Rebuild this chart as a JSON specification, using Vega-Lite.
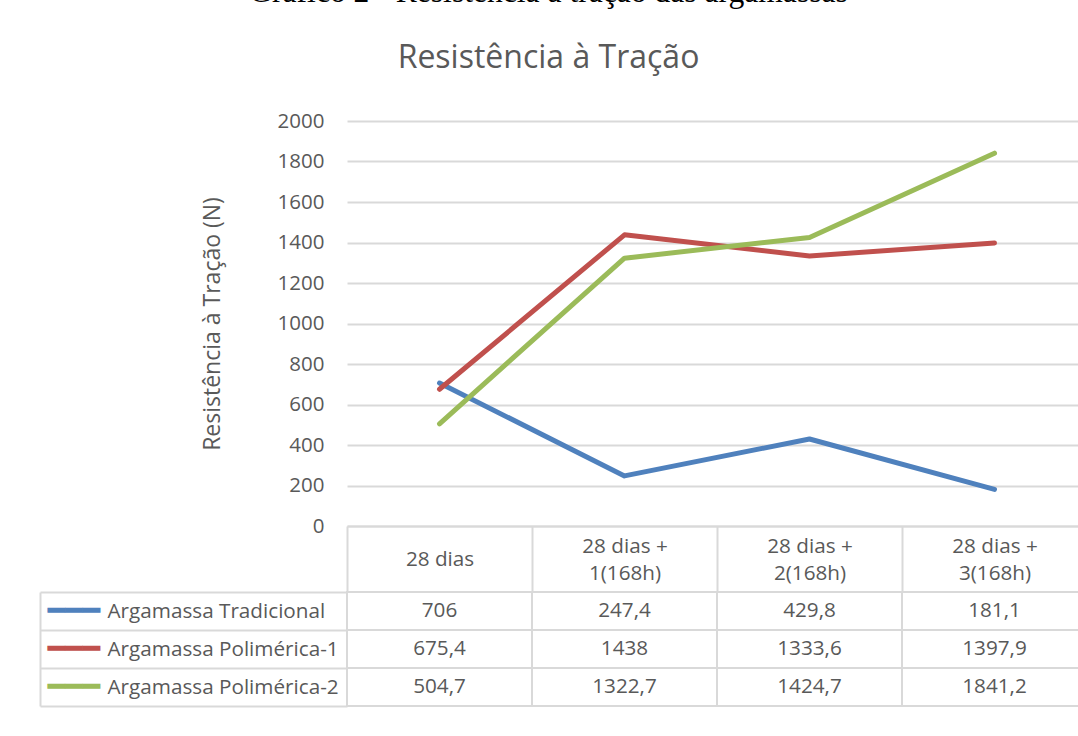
{
  "$schema": "https://vega.github.io/schema/vega-lite/v6.json",
  "background": "white",
  "padding": {"left": 39, "top": -24, "right": -10, "bottom": 29},
  "title": {
    "text": "Gráfico 2 - Resistência à tração das argamassas",
    "subtitle": "Resistência à Tração",
    "anchor": "middle",
    "font": "Liberation Serif",
    "fontSize": 31.6,
    "fontWeight": "normal",
    "color": "#000000",
    "subtitleFont": "Open Sans",
    "subtitleFontSize": 32,
    "subtitleFontWeight": "normal",
    "subtitleColor": "#595959",
    "subtitlePadding": 34.6,
    "offset": 37,
    "dx": -15
  },
  "config": {
    "view": {"stroke": null},
    "font": "Open Sans",
    "locale": {"number": {"decimal": ",", "thousands": ".", "grouping": [3], "currency": ["R$", ""]}}
  },
  "datasets": {
    "tabela": [
      {"periodo": "28 dias", "serie": "Argamassa Tradicional", "valor": 706},
      {"periodo": "28 dias", "serie": "Argamassa Polimérica-1", "valor": 675.4},
      {"periodo": "28 dias", "serie": "Argamassa Polimérica-2", "valor": 504.7},
      {"periodo": "28 dias + 1(168h)", "serie": "Argamassa Tradicional", "valor": 247.4},
      {"periodo": "28 dias + 1(168h)", "serie": "Argamassa Polimérica-1", "valor": 1438},
      {"periodo": "28 dias + 1(168h)", "serie": "Argamassa Polimérica-2", "valor": 1322.7},
      {"periodo": "28 dias + 2(168h)", "serie": "Argamassa Tradicional", "valor": 429.8},
      {"periodo": "28 dias + 2(168h)", "serie": "Argamassa Polimérica-1", "valor": 1333.6},
      {"periodo": "28 dias + 2(168h)", "serie": "Argamassa Polimérica-2", "valor": 1424.7},
      {"periodo": "28 dias + 3(168h)", "serie": "Argamassa Tradicional", "valor": 181.1},
      {"periodo": "28 dias + 3(168h)", "serie": "Argamassa Polimérica-1", "valor": 1397.9},
      {"periodo": "28 dias + 3(168h)", "serie": "Argamassa Polimérica-2", "valor": 1841.2}
    ]
  },
  "bounds": "flush",
  "spacing": 66,
  "vconcat": [
    {
      "width": 740,
      "height": 405,
      "data": {"name": "tabela"},
      "mark": {"type": "line", "strokeWidth": 5, "strokeCap": "round", "strokeJoin": "round"},
      "encoding": {
        "x": {
          "field": "periodo",
          "type": "ordinal",
          "sort": ["28 dias", "28 dias + 1(168h)", "28 dias + 2(168h)", "28 dias + 3(168h)"],
          "bandPosition": 0.5,
          "scale": {"type": "band", "paddingInner": 0, "paddingOuter": 0},
          "axis": {
            "title": null,
            "orient": "bottom",
            "tickBand": "extent",
            "tickSize": 66,
            "tickColor": "#d9d9d9",
            "tickWidth": 2,
            "domainColor": "#d9d9d9",
            "domainWidth": 2,
            "labelAngle": 0,
            "labelFont": "Open Sans",
            "labelFontSize": 20.7,
            "labelColor": "#595959",
            "labelBaseline": {"expr": "datum.value === '28 dias' ? 'middle' : 'line-bottom'"},
            "labelPadding": -33,
            "labelLineHeight": 27,
            "labelExpr": "split(replace(datum.label, '+ ', '+|'), '|')"
          }
        },
        "y": {
          "field": "valor",
          "type": "quantitative",
          "scale": {"domain": [0, 2000], "nice": false},
          "axis": {
            "values": [0, 200, 400, 600, 800, 1000, 1200, 1400, 1600, 1800, 2000],
            "format": "d",
            "grid": true,
            "gridColor": "#d9d9d9",
            "gridWidth": 2,
            "domain": false,
            "ticks": false,
            "labelPadding": 23,
            "labelFont": "Open Sans",
            "labelFontSize": 20.5,
            "labelColor": "#595959",
            "title": "Resistência à Tração (N)",
            "titleFont": "Open Sans",
            "titleFontSize": 23,
            "titleFontWeight": "normal",
            "titleColor": "#595959",
            "titlePadding": 53
          }
        },
        "color": {
          "field": "serie",
          "type": "nominal",
          "scale": {
            "domain": ["Argamassa Tradicional", "Argamassa Polimérica-1", "Argamassa Polimérica-2"],
            "range": ["#4F81BD", "#C0504D", "#9BBB59"]
          },
          "legend": null
        }
      }
    },
    {
      "width": 740,
      "height": 114,
      "data": {"name": "tabela"},
      "layer": [
        {
          "mark": {"type": "rect", "fill": "#ffffff", "stroke": "#d9d9d9", "strokeWidth": 2},
          "encoding": {
            "x": {
              "field": "periodo",
              "type": "ordinal",
              "sort": ["28 dias", "28 dias + 1(168h)", "28 dias + 2(168h)", "28 dias + 3(168h)"],
              "scale": {"type": "band", "paddingInner": 0, "paddingOuter": 0},
              "axis": null
            },
            "y": {
              "field": "serie",
              "type": "nominal",
              "sort": ["Argamassa Tradicional", "Argamassa Polimérica-1", "Argamassa Polimérica-2"],
              "scale": {"type": "band", "paddingInner": 0, "paddingOuter": 0},
              "axis": {
                "orient": "left",
                "title": null,
                "domain": false,
                "tickBand": "extent",
                "tickSize": 307,
                "tickColor": "#d9d9d9",
                "tickWidth": 2,
                "labelAlign": "left",
                "labelBaseline": "middle",
                "labelPadding": -67,
                "labelLimit": 400,
                "labelFont": "Open Sans",
                "labelFontSize": 20.7,
                "labelColor": "#595959"
              }
            }
          }
        },
        {
          "mark": {"type": "text", "font": "Open Sans", "fontSize": 20.7, "color": "#595959", "align": "center", "baseline": "middle"},
          "encoding": {
            "x": {
              "field": "periodo",
              "type": "ordinal",
              "sort": ["28 dias", "28 dias + 1(168h)", "28 dias + 2(168h)", "28 dias + 3(168h)"],
              "scale": {"type": "band", "paddingInner": 0, "paddingOuter": 0},
              "axis": null
            },
            "y": {
              "field": "serie",
              "type": "nominal",
              "sort": ["Argamassa Tradicional", "Argamassa Polimérica-1", "Argamassa Polimérica-2"],
              "scale": {"type": "band", "paddingInner": 0, "paddingOuter": 0},
              "axis": {
                "orient": "left",
                "offset": 307,
                "title": null,
                "domain": true,
                "domainColor": "#d9d9d9",
                "domainWidth": 2,
                "ticks": false,
                "labelAlign": "left",
                "labelBaseline": "middle",
                "labelPadding": -7,
                "labelLimit": 400,
                "labelFont": "DejaVu Sans",
                "labelFontSize": 29,
                "labelExpr": "'━━━'",
                "labelColor": {"expr": "datum.value === 'Argamassa Tradicional' ? '#4F81BD' : datum.value === 'Argamassa Polimérica-1' ? '#C0504D' : '#9BBB59'"}
              }
            },
            "text": {"field": "valor", "type": "quantitative", "format": "~g"}
          }
        }
      ],
      "resolve": {"axis": {"y": "independent"}}
    }
  ]
}
